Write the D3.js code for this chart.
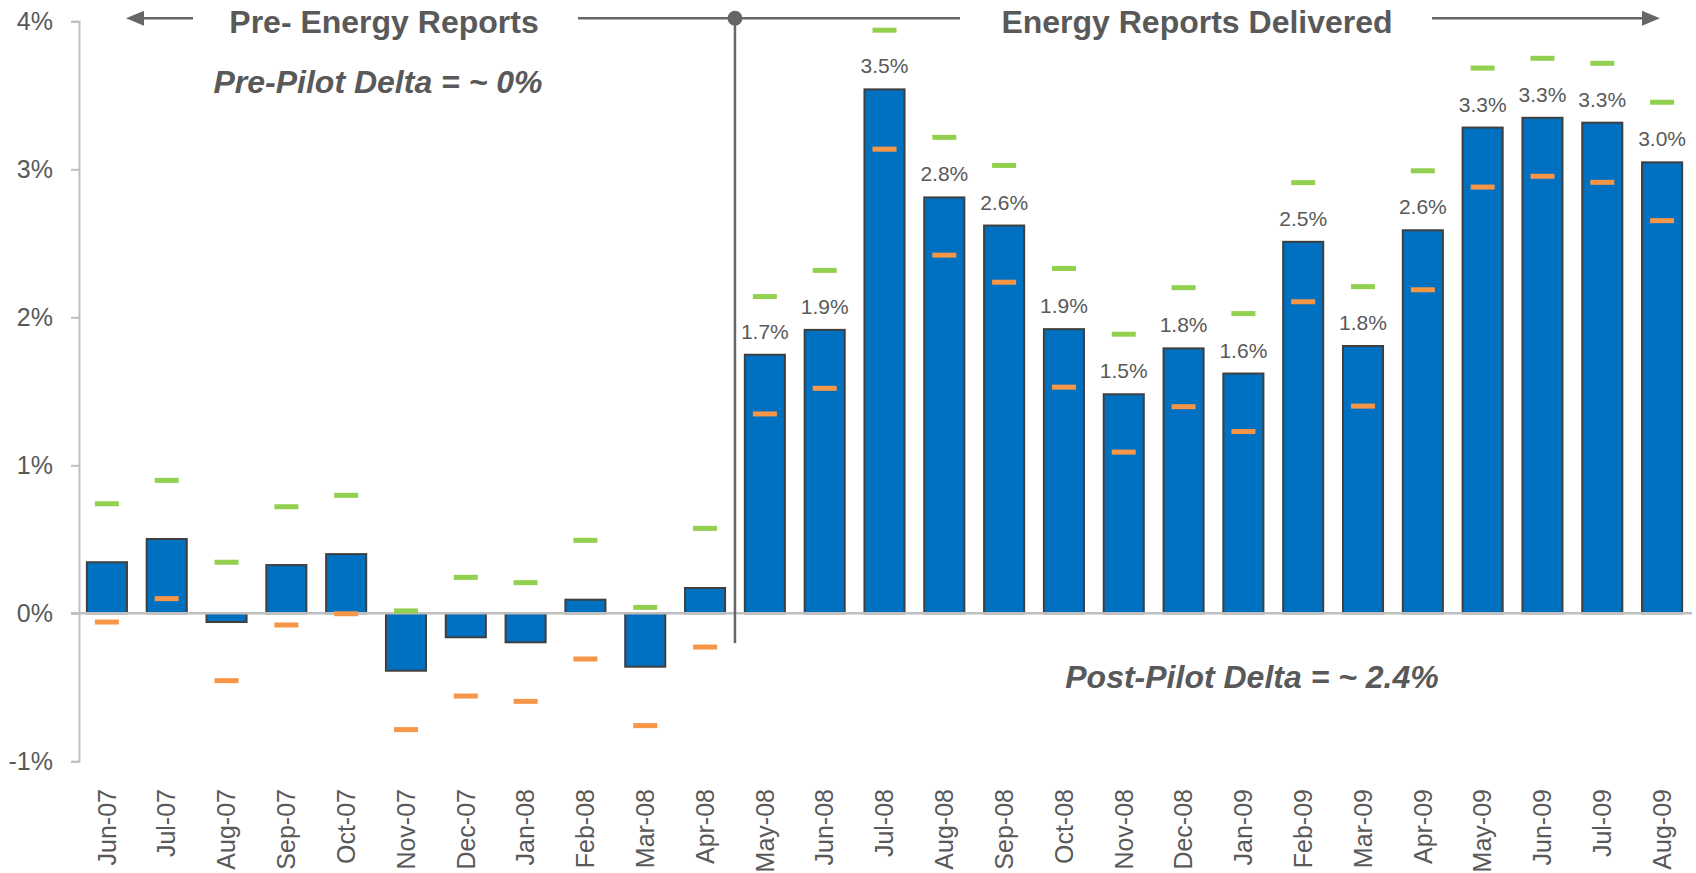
<!DOCTYPE html>
<html>
<head>
<meta charset="utf-8">
<script src="https://cdn.jsdelivr.net/npm/d3@7"></script>
<style>
  body { margin: 0; background: #ffffff; }
  svg { display: block; font-family: "Liberation Sans", Arial, sans-serif; }
</style>
</head>
<body>
<div class="chart"></div>
<script>
// Monthly delta (%) with upper / lower bound markers
var months = ["Jun-07", "Jul-07", "Aug-07", "Sep-07", "Oct-07", "Nov-07", "Dec-07", "Jan-08",
  "Feb-08", "Mar-08", "Apr-08", "May-08", "Jun-08", "Jul-08", "Aug-08", "Sep-08", "Oct-08",
  "Nov-08", "Dec-08", "Jan-09", "Feb-09", "Mar-09", "Apr-09", "May-09", "Jun-09", "Jul-09", "Aug-09"];

var delta = [0.345, 0.502, -0.059, 0.326, 0.40, -0.388, -0.162, -0.196, 0.092, -0.361, 0.171,
  1.747, 1.915, 3.54, 2.81, 2.62, 1.92, 1.48, 1.79, 1.62, 2.51, 1.806, 2.588, 3.282, 3.348, 3.315, 3.047];

var upper = [0.74, 0.898, 0.345, 0.72, 0.797, 0.016, 0.243, 0.207, 0.493, 0.04, 0.574,
  2.14, 2.317, 3.94, 3.216, 3.026, 2.33, 1.886, 2.2, 2.025, 2.91, 2.207, 2.99, 3.684, 3.75, 3.716, 3.453];

var lower = [-0.059, 0.099, -0.455, -0.079, -0.003, -0.786, -0.559, -0.595, -0.309, -0.759, -0.228,
  1.347, 1.52, 3.136, 2.42, 2.237, 1.528, 1.089, 1.396, 1.228, 2.105, 1.40, 2.186, 2.88, 2.953, 2.912, 2.653];

var yTicks = [-1, 0, 1, 2, 3, 4];
var firstPost = "May-08";   // first month with reports delivered

var preTitle = "Pre- Energy Reports";
var postTitle = "Energy Reports Delivered";
var preNote = "Pre-Pilot Delta = ~ 0%";
var postNote = "Post-Pilot Delta = ~ 2.4%";

// chart setup
var svgWidth = 1696;
var svgHeight = 873;
var textColor = "#595959";

var svg = d3.select(".chart")
  .append("svg")
  .attr("width", svgWidth)
  .attr("height", svgHeight);

var rows = months.map(function(m, i) {
  return { month: m, delta: delta[i], upper: upper[i], lower: lower[i], idx: i };
});
var postStart = months.indexOf(firstPost);

// Step 1: scales
var xBand = d3.scaleBand()
  .domain(months)
  .range([77, 1692])
  .paddingInner(0.33)
  .paddingOuter(0.165);

var yLinear = d3.scaleLinear()
  .domain([-1, 4])
  .range([761.3, 21.3]);

var cx = function(m) { return xBand(m) + xBand.bandwidth() / 2; };

// Step 2: y axis (line on the left, ticks outward)
var leftAxis = d3.axisLeft(yLinear)
  .tickValues(yTicks)
  .tickSize(8)
  .tickPadding(18)
  .tickFormat(function(d) { return d + "%"; });

var yAxisG = svg.append("g")
  .attr("transform", "translate(79,0)")
  .call(leftAxis);
yAxisG.select(".domain").attr("stroke", "#bfbfbf").attr("stroke-width", 2);
yAxisG.selectAll(".tick line").attr("stroke", "#bfbfbf").attr("stroke-width", 2);
yAxisG.selectAll(".tick text")
  .attr("fill", textColor)
  .style("font-size", "25px")
  .style("font-family", "'Liberation Sans', Arial, sans-serif");

// Step 3: bars
svg.append("g").selectAll("rect")
  .data(rows)
  .enter()
  .append("rect")
  .attr("x", d => xBand(d.month))
  .attr("y", d => yLinear(Math.max(0, d.delta)))
  .attr("width", xBand.bandwidth())
  .attr("height", d => Math.abs(yLinear(d.delta) - yLinear(0)))
  .attr("fill", "#0070c0")
  .attr("stroke", "#3f3f3f")
  .attr("stroke-width", 2);

// zero line over the bar bottoms
svg.append("line")
  .attr("x1", 71)
  .attr("x2", 1692)
  .attr("y1", yLinear(0))
  .attr("y2", yLinear(0))
  .attr("stroke", "#bfbfbf")
  .attr("stroke-width", 2.5);

// Step 4: upper (green) and lower (orange) markers
var dashW = 24, dashH = 5;
svg.append("g").selectAll("rect")
  .data(rows)
  .enter()
  .append("rect")
  .attr("x", d => cx(d.month) - dashW / 2)
  .attr("y", d => yLinear(d.upper) - dashH / 2)
  .attr("width", dashW)
  .attr("height", dashH)
  .attr("fill", "#92d050");

svg.append("g").selectAll("rect")
  .data(rows)
  .enter()
  .append("rect")
  .attr("x", d => cx(d.month) - dashW / 2)
  .attr("y", d => yLinear(d.lower) - dashH / 2)
  .attr("width", dashW)
  .attr("height", dashH)
  .attr("fill", "#f79646");

// Step 5: value labels for the post period
svg.append("g").selectAll("text")
  .data(rows.filter(d => d.idx >= postStart))
  .enter()
  .append("text")
  .attr("x", d => cx(d.month))
  .attr("y", d => yLinear(d.delta) - 16)
  .attr("text-anchor", "middle")
  .attr("fill", textColor)
  .style("font-size", "21px")
  .text(d => d.delta.toFixed(1) + "%");

// Step 6: month labels, rotated
svg.append("g").selectAll("text")
  .data(rows)
  .enter()
  .append("text")
  .attr("transform", d => `translate(${cx(d.month)}, 789) rotate(-90)`)
  .attr("dy", "0.35em")
  .attr("text-anchor", "end")
  .attr("fill", textColor)
  .style("font-size", "25px")
  .text(d => d.month);

// Step 7: pre/post divider with arrows
var divX = xBand(months[postStart - 1]) + xBand.step() - (xBand.step() - xBand.bandwidth()) / 2;
var headY = 18.3;
var lineColor = "#666666";

svg.append("line")
  .attr("x1", divX).attr("x2", divX)
  .attr("y1", headY).attr("y2", yLinear(-0.2))
  .attr("stroke", lineColor).attr("stroke-width", 2.5);

var segs = [[140, 193], [578, 960], [1432, 1645]];
segs.forEach(function(s) {
  svg.append("line")
    .attr("x1", s[0]).attr("x2", s[1])
    .attr("y1", headY).attr("y2", headY)
    .attr("stroke", lineColor).attr("stroke-width", 2.5);
});

// arrow heads
svg.append("path")
  .attr("d", `M126,${headY} L144,${headY - 7.5} L144,${headY + 7.5} Z`)
  .attr("fill", lineColor);
svg.append("path")
  .attr("d", `M1660,${headY} L1642,${headY - 7.5} L1642,${headY + 7.5} Z`)
  .attr("fill", lineColor);

svg.append("circle")
  .attr("cx", divX).attr("cy", headY)
  .attr("r", 7.5)
  .attr("fill", lineColor);

// Step 8: titles and notes
svg.append("text")
  .attr("x", 384).attr("y", 33)
  .attr("text-anchor", "middle")
  .attr("fill", textColor)
  .style("font-size", "32px").style("font-weight", "bold")
  .text(preTitle);

svg.append("text")
  .attr("x", 1197).attr("y", 33)
  .attr("text-anchor", "middle")
  .attr("fill", textColor)
  .style("font-size", "32px").style("font-weight", "bold")
  .text(postTitle);

svg.append("text")
  .attr("x", 378).attr("y", 93)
  .attr("text-anchor", "middle")
  .attr("fill", textColor)
  .style("font-size", "32px").style("font-weight", "bold").style("font-style", "italic")
  .text(preNote);

svg.append("text")
  .attr("x", 1252).attr("y", 688)
  .attr("text-anchor", "middle")
  .attr("fill", textColor)
  .style("font-size", "32px").style("font-weight", "bold").style("font-style", "italic")
  .text(postNote);
</script>
</body>
</html>
